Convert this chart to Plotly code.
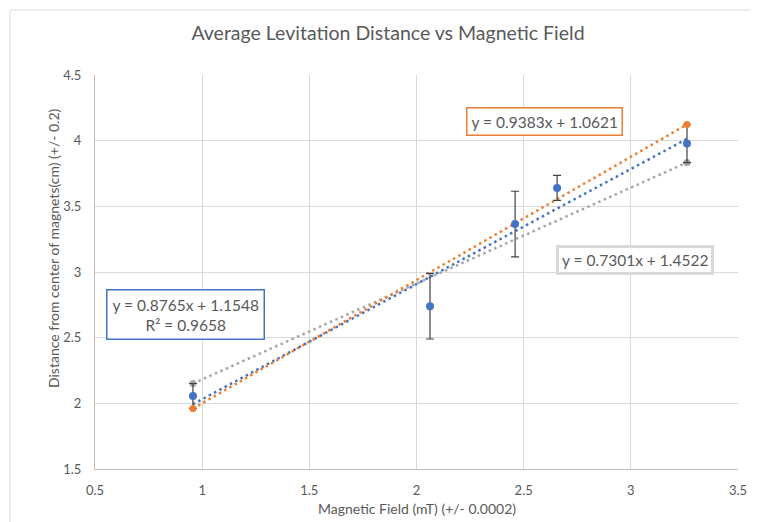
import plotly.graph_objects as go

# ---- data ----
avg_x = [0.957, 2.063, 2.46, 2.656, 3.262]
avg_y = [2.056, 2.74, 3.365, 3.64, 3.978]
avg_err = [0.095, 0.25, 0.25, 0.095, 0.145]

ends_x = [0.957, 3.262]
orange_y = [1.960, 4.123]
gray_y = [2.151, 3.834]

# trendline coefficients (slope, intercept) as printed on the chart
blue_fit = (0.8765, 1.1548)
orange_fit = (0.9383, 1.0621)
gray_fit = (0.7301, 1.4522)
blue_r2 = 0.9658

x_ticks = [0.5, 1, 1.5, 2, 2.5, 3, 3.5]
y_ticks = [1.5, 2, 2.5, 3, 3.5, 4, 4.5]

BLUE = "#4472C4"
ORANGE = "#ED7D31"
GRAY = "#A5A5A5"
TXT = "#595959"
FONT = "Lato"

OFF = 8  # browser body margin


def trend(fit, xs):
    lo, hi = min(xs), max(xs)
    return [lo, hi], [fit[0] * lo + fit[1], fit[0] * hi + fit[1]]


fig = go.Figure()

# trendlines
for fit, xs, col in [(gray_fit, ends_x, GRAY), (blue_fit, avg_x, BLUE), (orange_fit, ends_x, ORANGE)]:
    tx, ty = trend(fit, xs)
    fig.add_trace(go.Scatter(x=tx, y=ty, mode="lines",
                             line=dict(color=col, width=2.5, dash="2.5px,3.5px"),
                             hoverinfo="skip", showlegend=False))

# points
fig.add_trace(go.Scatter(x=ends_x, y=gray_y, mode="markers",
                         marker=dict(color=GRAY, size=7), showlegend=False))
fig.add_trace(go.Scatter(x=avg_x, y=avg_y, mode="markers",
                         marker=dict(color=BLUE, size=8),
                         error_y=dict(type="data", array=avg_err, visible=True,
                                      color="#404040", thickness=1.2, width=4),
                         showlegend=False))
fig.add_trace(go.Scatter(x=ends_x, y=orange_y, mode="markers",
                         marker=dict(color=ORANGE, size=7), showlegend=False))

# trendline labels
fig.add_annotation(x=2.597, y=4.143, xref="x", yref="y", showarrow=False,
                   text=f"y = {orange_fit[0]:.4f}x + {orange_fit[1]:.4f}",
                   font=dict(family=FONT, size=15.5, color=TXT),
                   bgcolor="white", bordercolor=ORANGE, borderwidth=1.5, borderpad=4)
fig.add_annotation(x=3.019, y=3.095, xref="x", yref="y", showarrow=False,
                   text=f"y = {gray_fit[0]:.4f}x + {gray_fit[1]:.4f}",
                   font=dict(family=FONT, size=15.5, color=TXT),
                   bgcolor="white", bordercolor="#D9D9D9", borderwidth=3, borderpad=3)
fig.add_annotation(x=0.920, y=2.673, xref="x", yref="y", showarrow=False,
                   text=f"y = {blue_fit[0]:.4f}x + {blue_fit[1]:.4f}<br>R² = {blue_r2:.4f}",
                   font=dict(family=FONT, size=15.5, color=TXT),
                   bgcolor="white", bordercolor=BLUE, borderwidth=1.5, borderpad=5)

# axis titles
fig.add_annotation(x=(53 - 95) / 643, y=(469 - 248) / 394, xref="paper", yref="paper",
                   xanchor="center", yanchor="middle",
                   showarrow=False, textangle=-90,
                   text="Distance from center of magnets(cm) (+/- 0.2)",
                   font=dict(family=FONT, size=14, color=TXT))
fig.add_annotation(x=(417 - 95) / 643, y=(469 - 508) / 394, xref="paper", yref="paper",
                   xanchor="center", yanchor="middle",
                   showarrow=False,
                   text="Magnetic Field (mT) (+/- 0.0002)",
                   font=dict(family=FONT, size=14, color=TXT))

# outer chart border
fig.add_shape(type="rect", xref="paper", yref="paper",
              x0=(10 - 95) / 643, x1=(775 - 95) / 643,
              y0=(469 - 540) / 394, y1=(469 - 10) / 394,
              line=dict(color="#D9D9D9", width=1), layer="below")

fig.update_layout(
    width=758 - OFF, height=522 - OFF,
    margin=dict(l=95 - OFF, r=20, t=75 - OFF, b=53),
    paper_bgcolor="white", plot_bgcolor="white",
    title=dict(text="Average Levitation Distance vs Magnetic Field",
               x=(388 - OFF) / (758 - OFF), xanchor="center",
               y=1 - (33 - OFF) / (522 - OFF), yanchor="middle",
               font=dict(family=FONT, size=19.5, color=TXT)),
    font=dict(family=FONT, color=TXT),
    xaxis=dict(range=[0.5, 3.5], tickvals=x_ticks, ticktext=[f"{v:g}" for v in x_ticks],
               showgrid=True, gridcolor="#D9D9D9", gridwidth=1,
               showline=True, linecolor="#BFBFBF", linewidth=1, zeroline=False,
               ticks="", ticklabelstandoff=9,
               tickfont=dict(family=FONT, size=13, color=TXT)),
    yaxis=dict(range=[1.5, 4.5], tickvals=y_ticks, ticktext=[f"{v:g}" for v in y_ticks],
               showgrid=True, gridcolor="#D9D9D9", gridwidth=1,
               showline=True, linecolor="#BFBFBF", linewidth=1, zeroline=False,
               ticks="", ticklabelstandoff=10,
               tickfont=dict(family=FONT, size=13, color=TXT)),
)

fig.write_html("out.html")
